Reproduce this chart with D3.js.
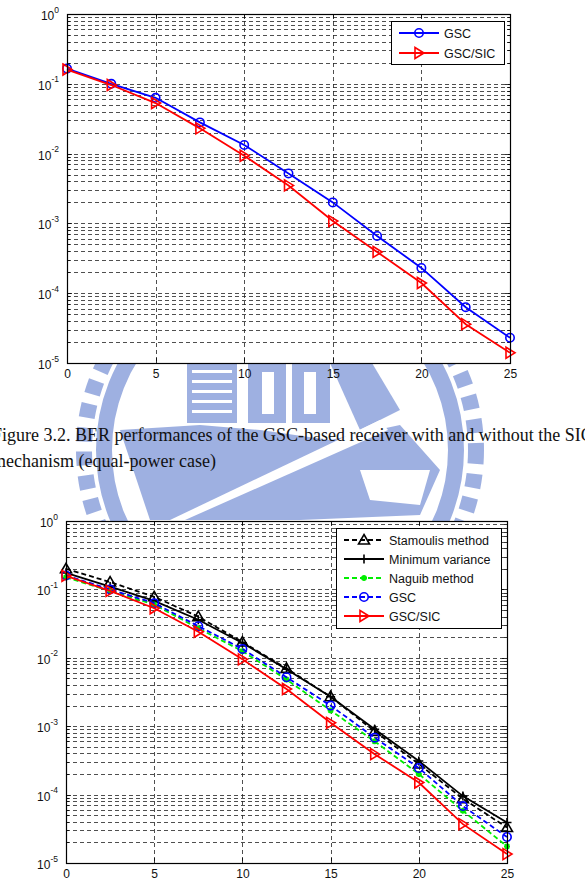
<!DOCTYPE html>
<html>
<head>
<meta charset="utf-8">
<script src="https://cdn.jsdelivr.net/npm/d3@7"></script>
<style>
  body { margin: 0; background: #fff; }
  svg { display: block; }
  .tick text { font-family: "Liberation Sans", Arial, sans-serif; }
</style>
</head>
<body>
<div id="chart"></div>
<script>
// SNR points (x axis)
const snr = [0, 2.5, 5, 7.5, 10, 12.5, 15, 17.5, 20, 22.5, 25];
const xTicks = [0, 5, 10, 15, 20, 25];
const yDecades = [-5, -4, -3, -2, -1, 0];

// BER values
const berGSC = [0.165, 0.100, 0.063, 0.028, 0.0133, 0.0052, 0.0020, 0.00066, 0.00023, 6.3e-5, 2.3e-5];
const berGSCSIC = [0.160, 0.096, 0.053, 0.023, 0.0093, 0.0035, 0.00108, 0.00039, 0.00014, 3.6e-5, 1.4e-5];

const berStamoulis = [0.200, 0.128, 0.078, 0.040, 0.0170, 0.0070, 0.0027, 0.00084, 0.00028, 8.7e-5, 3.3e-5];
const berMinVar = [0.175, 0.110, 0.068, 0.036, 0.0165, 0.0068, 0.0027, 0.00090, 0.00031, 9.5e-5, 3.9e-5];
const berNaguib = [0.150, 0.095, 0.060, 0.027, 0.0125, 0.0048, 0.0017, 0.00060, 0.00020, 5.8e-5, 1.75e-5];
const berGSC2 = [0.160, 0.100, 0.063, 0.029, 0.0135, 0.0052, 0.0020, 0.00068, 0.000245, 6.8e-5, 2.4e-5];
const berGSCSIC2 = [0.158, 0.095, 0.053, 0.024, 0.0095, 0.0035, 0.00112, 0.00039, 0.00015, 3.7e-5, 1.35e-5];

const W = 585, H = 889;
const svg = d3.select("#chart").append("svg").attr("width", W).attr("height", H);

// faint watermark behind everything
function drawWatermark() {
  const g = svg.append("g").attr("fill", "#8ea3dc").attr("stroke", "none").attr("opacity", 0.85);
  const cx = 280, cy = 450;
  // toothed ring
  g.append("circle").attr("cx", cx).attr("cy", cy).attr("r", 176)
    .attr("fill", "none").attr("stroke", "#8ea3dc").attr("stroke-width", 16);
  g.append("circle").attr("cx", cx).attr("cy", cy).attr("r", 196)
    .attr("fill", "none").attr("stroke", "#8ea3dc").attr("stroke-width", 16)
    .attr("stroke-dasharray", "14,10");
  // blocks
  g.append("rect").attr("x", 187).attr("y", 363).attr("width", 50).attr("height", 60);
  g.append("rect").attr("x", 248).attr("y", 363).attr("width", 38).attr("height", 60);
  g.append("rect").attr("x", 292).attr("y", 363).attr("width", 38).attr("height", 60);
  g.append("path").attr("d", "M330,363 L372,363 L400,410 L360,430 Z");
  // big central shape
  g.append("path").attr("d", "M120,430 L200,425 L260,430 L330,440 L400,425 L440,470 L420,515 L300,520 L210,520 L150,520 Z");
  const w = svg.append("g").attr("fill", "#fff");
  for (let i = 0; i < 5; i++) {
    w.append("rect").attr("x", 192).attr("y", 370 + i * 10).attr("width", 40).attr("height", 3);
  }
  w.append("rect").attr("x", 262).attr("y", 372).attr("width", 12).attr("height", 42);
  w.append("rect").attr("x", 304).attr("y", 372).attr("width", 12).attr("height", 42);
  w.append("path").attr("d", "M170,520 L380,420 L388,430 L185,520 Z");
  w.append("path").attr("d", "M360,470 L430,470 L420,505 L370,500 Z");
}
drawWatermark();

function marker(g, type, cx, cy, color) {
  if (type === "circle") {
    g.append("circle").attr("cx", cx).attr("cy", cy).attr("r", 4.2)
      .attr("fill", "none").attr("stroke", color).attr("stroke-width", 1.6);
  } else if (type === "tri-right") {
    g.append("path").attr("d", `M${cx - 4},${cy - 5.5} L${cx + 5},${cy} L${cx - 4},${cy + 5.5} Z`)
      .attr("fill", "none").attr("stroke", color).attr("stroke-width", 1.6);
  } else if (type === "tri-up") {
    g.append("path").attr("d", `M${cx},${cy - 5.5} L${cx + 5.5},${cy + 4} L${cx - 5.5},${cy + 4} Z`)
      .attr("fill", "none").attr("stroke", color).attr("stroke-width", 1.6);
  } else if (type === "plus") {
    g.append("path").attr("d", `M${cx - 4.5},${cy} L${cx + 4.5},${cy} M${cx},${cy - 4.5} L${cx},${cy + 4.5}`)
      .attr("stroke", color).attr("stroke-width", 1.6);
  } else if (type === "star") {
    g.append("path").attr("d", `M${cx - 3},${cy} L${cx + 3},${cy} M${cx},${cy - 3} L${cx},${cy + 3} M${cx - 2.2},${cy - 2.2} L${cx + 2.2},${cy + 2.2} M${cx - 2.2},${cy + 2.2} L${cx + 2.2},${cy - 2.2}`)
      .attr("stroke", color).attr("stroke-width", 1.8);
  }
}

function drawPanel(cfg) {
  const x = d3.scaleLinear().domain([0, 25]).range([cfg.left, cfg.right]);
  const y = d3.scaleLog().domain([1e-5, 1]).range([cfg.bottom, cfg.top]);
  const g = svg.append("g");

  g.append("rect").attr("x", cfg.left).attr("y", cfg.top)
    .attr("width", cfg.right - cfg.left).attr("height", cfg.bottom - cfg.top).attr("fill", "#fff");

  // grid
  const minor = [];
  yDecades.slice(0, -1).forEach(d => { for (let m = 1; m <= 9; m++) minor.push(m * Math.pow(10, d)); });
  const grid = g.append("g").attr("stroke", "#222").attr("stroke-width", 0.8).attr("stroke-dasharray", "4,3");
  grid.selectAll(".hg").data(minor.filter(v => v > 1e-5)).enter().append("line")
    .attr("x1", cfg.left).attr("x2", cfg.right)
    .attr("y1", d => Math.round(y(d)) + 0.5).attr("y2", d => Math.round(y(d)) + 0.5);
  grid.selectAll(".vg").data(xTicks.slice(1, -1)).enter().append("line")
    .attr("y1", cfg.top).attr("y2", cfg.bottom)
    .attr("x1", d => Math.round(x(d)) + 0.5).attr("x2", d => Math.round(x(d)) + 0.5);

  // inward ticks
  const tk = g.append("g").attr("stroke", "#000").attr("stroke-width", 0.8);
  minor.concat([1]).forEach(v => {
    const yy = Math.round(y(v)) + 0.5;
    const len = Number.isInteger(Math.log10(v)) ? 5 : 3;
    tk.append("line").attr("x1", cfg.left).attr("x2", cfg.left + len).attr("y1", yy).attr("y2", yy);
    tk.append("line").attr("x1", cfg.right).attr("x2", cfg.right - len).attr("y1", yy).attr("y2", yy);
  });
  xTicks.forEach(v => {
    const xx = Math.round(x(v)) + 0.5;
    tk.append("line").attr("x1", xx).attr("x2", xx).attr("y1", cfg.bottom).attr("y2", cfg.bottom - 5);
    tk.append("line").attr("x1", xx).attr("x2", xx).attr("y1", cfg.top).attr("y2", cfg.top + 5);
  });

  // axes labels
  const xa = g.append("g").attr("transform", `translate(0,${cfg.bottom})`)
    .call(d3.axisBottom(x).tickValues(xTicks).tickSize(0).tickPadding(6).tickFormat(d3.format("d")));
  xa.select(".domain").remove();
  xa.selectAll("text").attr("font-size", 12).attr("fill", "#111");

  const ya = g.append("g").attr("transform", `translate(${cfg.left},0)`)
    .call(d3.axisLeft(y).tickValues(yDecades.map(d => Math.pow(10, d))).tickSize(0).tickPadding(8).tickFormat(""));
  ya.select(".domain").remove();
  ya.selectAll(".tick text").each(function (d) {
    const t = d3.select(this).attr("font-size", 12).attr("fill", "#111").attr("dy", "0.45em");
    t.append("tspan").text("10");
    t.append("tspan").attr("font-size", 8.5).attr("dy", "-0.85em").text(Math.round(Math.log10(d)));
  });

  // series
  const line = d3.line().x((d, i) => x(snr[i])).y(d => y(d));
  cfg.series.forEach(s => {
    g.append("path").datum(s.values).attr("d", line).attr("fill", "none")
      .attr("stroke", s.color).attr("stroke-width", 1.8)
      .attr("stroke-dasharray", s.dash ? "5,3" : null);
    const mg = g.append("g");
    s.values.forEach((v, i) => marker(mg, s.marker, x(snr[i]), y(v), s.color));
  });

  // box
  g.append("rect").attr("x", cfg.left + 0.5).attr("y", cfg.top + 0.5)
    .attr("width", cfg.right - cfg.left).attr("height", cfg.bottom - cfg.top)
    .attr("fill", "none").attr("stroke", "#000").attr("stroke-width", 1.2);

  // legend
  const L = cfg.legend;
  const lg = g.append("g");
  lg.append("rect").attr("x", L.x + 0.5).attr("y", L.y + 0.5).attr("width", L.w).attr("height", L.h)
    .attr("fill", "#fff").attr("stroke", "#000").attr("stroke-width", 1);
  cfg.series.forEach((s, i) => {
    const yy = L.y + L.first + i * L.step;
    lg.append("line").attr("x1", L.x + 8).attr("x2", L.x + 48).attr("y1", yy).attr("y2", yy)
      .attr("stroke", s.color).attr("stroke-width", 1.8).attr("stroke-dasharray", s.dash ? "5,3" : null);
    marker(lg, s.marker, L.x + 28, yy, s.color);
    lg.append("text").attr("x", L.x + 53).attr("y", yy + 4.5)
      .attr("font-family", "Liberation Sans, Arial, sans-serif").attr("font-size", 12.5).attr("fill", "#111")
      .text(s.name);
  });
}

drawPanel({
  left: 67, right: 510, top: 14, bottom: 363,
  series: [
    { name: "GSC", values: berGSC, color: "#0000ff", marker: "circle", dash: false },
    { name: "GSC/SIC", values: berGSCSIC, color: "#ff0000", marker: "tri-right", dash: false }
  ],
  legend: { x: 391, y: 21, w: 113, h: 43, first: 12, step: 20 }
});

drawPanel({
  left: 66, right: 507, top: 521, bottom: 863,
  series: [
    { name: "Stamoulis method", values: berStamoulis, color: "#000", marker: "tri-up", dash: true },
    { name: "Minimum variance", values: berMinVar, color: "#000", marker: "plus", dash: false },
    { name: "Naguib method", values: berNaguib, color: "#00ee00", marker: "star", dash: true },
    { name: "GSC", values: berGSC2, color: "#0000ff", marker: "circle", dash: true },
    { name: "GSC/SIC", values: berGSCSIC2, color: "#ff0000", marker: "tri-right", dash: false }
  ],
  legend: { x: 336, y: 528, w: 165, h: 100, first: 12, step: 19 }
});

// caption (cut at both sides like the page scan)
const cap = svg.append("g").attr("font-family", "Liberation Serif, Times New Roman, serif")
  .attr("font-size", 18).attr("fill", "#111");
cap.append("text").attr("x", -8).attr("y", 441)
  .text("Figure 3.2. BER performances of the GSC-based receiver with and without the SIC");
cap.append("text").attr("x", -8).attr("y", 467).text("mechanism (equal-power case)");
</script>
</body>
</html>
